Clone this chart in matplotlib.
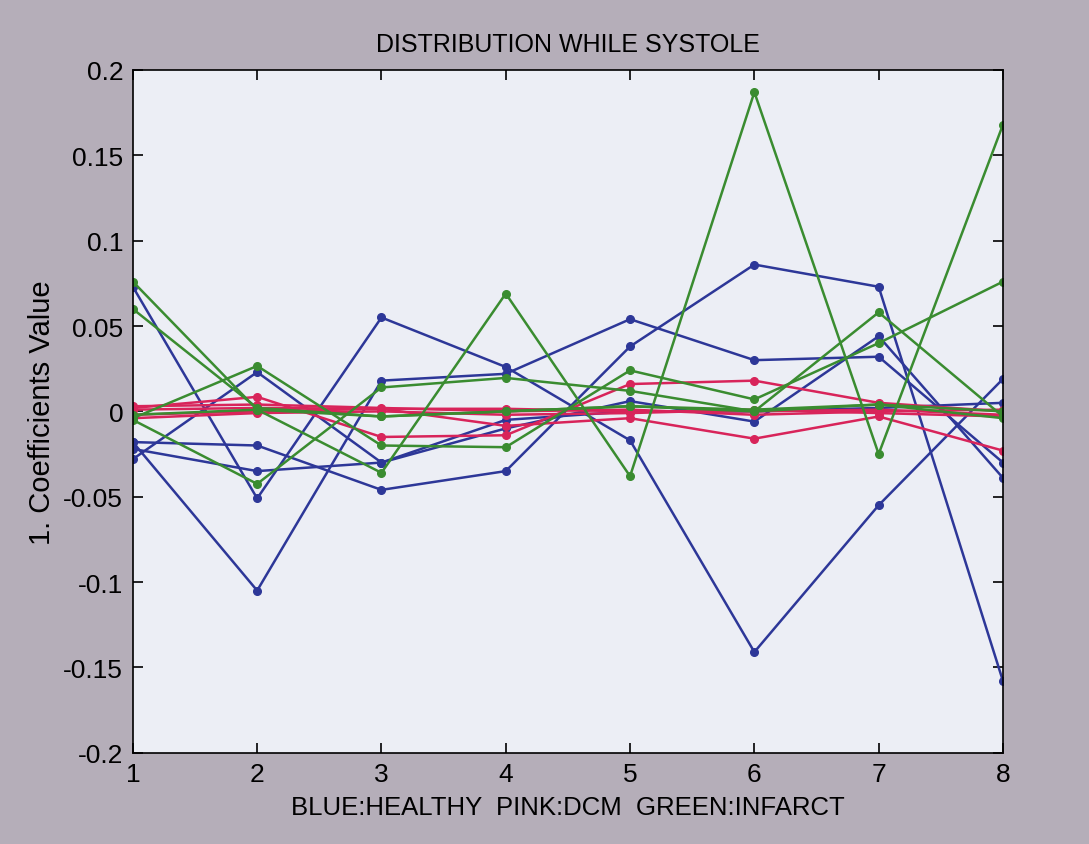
import matplotlib
matplotlib.use("Agg")
import matplotlib.pyplot as plt
import numpy as np

plt.rcParams['font.family'] = ['Liberation Sans', 'DejaVu Sans']

# coefficient index on the x axis
coef_idx = [1, 2, 3, 4, 5, 6, 7, 8]

# healthy (blue)
healthy = [
    [0.073, -0.051, 0.055, 0.026, -0.017, -0.141, -0.055, 0.019],
    [-0.018, -0.105, 0.018, 0.022, 0.054, 0.030, 0.032, -0.030],
    [-0.018, -0.020, -0.046, -0.035, 0.038, 0.086, 0.073, -0.158],
    [-0.028, 0.023, -0.030, -0.010, 0.006, -0.006, 0.044, -0.039],
    [-0.022, -0.035, -0.030, -0.005, 0.000, 0.000, 0.002, 0.005],
]

# DCM (pink)
dcm = [
    [0.002, 0.0085, -0.015, -0.014, 0.016, 0.018, 0.005, 0.000],
    [0.001, 0.002, 0.0015, -0.0085, -0.004, -0.016, -0.003, -0.023],
    [-0.002, 0.000, 0.0015, 0.0015, 0.000, 0.000, 0.001, -0.002],
    [0.003, 0.004, 0.002, 0.000, 0.001, -0.002, 0.000, 0.001],
    [-0.004, -0.001, 0.000, -0.002, -0.001, 0.001, -0.001, -0.003],
]

# infarct (green)
infarct = [
    [0.076, 0.001, -0.036, 0.069, -0.038, 0.187, -0.025, 0.168],
    [0.060, 0.002, -0.003, 0.000, 0.003, 0.000, 0.058, -0.003],
    [-0.004, 0.0266, -0.020, -0.021, 0.024, 0.007, 0.040, 0.076],
    [-0.005, -0.0425, 0.014, 0.0196, 0.012, 0.000, 0.004, 0.000],
    [-0.002, 0.001, -0.003, 0.000, 0.003, 0.001, 0.004, -0.004],
]

y_ticks = [-0.2, -0.15, -0.1, -0.05, 0, 0.05, 0.1, 0.15, 0.2]
y_tick_labels = ['-0.2', '-0.15', '-0.1', '-0.05', '0', '0.05', '0.1', '0.15', '0.2']

fig = plt.figure(figsize=(10.89, 8.45), dpi=100)
fig.patch.set_facecolor('#b5aeb9')
ax = fig.add_axes([0.122, 0.108, 0.799, 0.808])
ax.set_facecolor('#eceef5')

for row in healthy:
    ax.plot(coef_idx, row, color='#2d3798', lw=1.8, marker='o', ms=5.5)
for row in dcm:
    ax.plot(coef_idx, row, color='#d8245a', lw=1.8, marker='o', ms=5.5)
for row in infarct:
    ax.plot(coef_idx, row, color='#3a8c30', lw=1.8, marker='o', ms=5.5)

ax.set_xlim(1, 8)
ax.set_ylim(-0.2, 0.2)
ax.set_xticks(coef_idx)
ax.set_yticks(y_ticks)
ax.set_yticklabels(y_tick_labels)
ax.tick_params(direction='in', length=7, width=1.2, top=True, right=True,
               labelsize=19, pad=7, colors='black')
for s in ax.spines.values():
    s.set_linewidth(1.2)

ax.set_title('DISTRIBUTION WHILE SYSTOLE', fontsize=18, pad=14)
ax.set_xlabel('BLUE:HEALTHY  PINK:DCM  GREEN:INFARCT', fontsize=18.5, labelpad=6)
ax.set_ylabel('1. Coefficients Value', fontsize=21, labelpad=5)

fig.savefig('out.png', dpi=100, facecolor=fig.get_facecolor())
